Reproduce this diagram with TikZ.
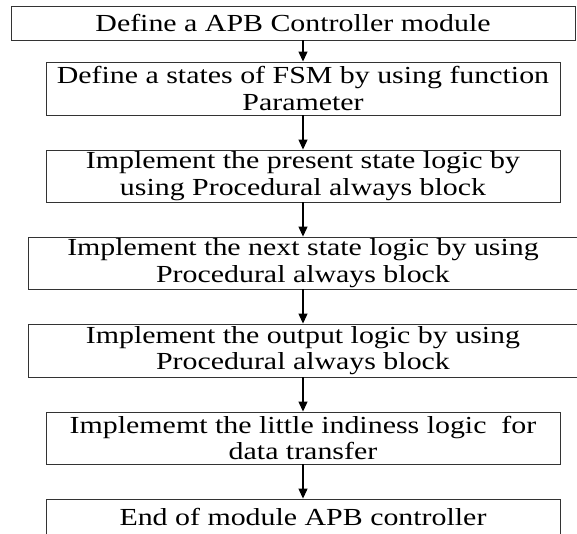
\documentclass[tikz,border=0pt]{standalone}
\usepackage{fontspec}
\setmainfont{Liberation Serif}[FakeStretch=1.22]
\usetikzlibrary{arrows.meta}
\begin{document}
\begin{tikzpicture}[x=1pt,y=-1pt,
  box/.style={draw=black!80, line width=0.9pt, inner sep=0pt, align=center,
    font=\fontsize{24.5}{26.5}\selectfont},
  arr/.style={-{Triangle[width=9pt,length=10pt]}, line width=1.1pt}]
\useasboundingbox (0,0) rectangle (577,533);
\clip (0,0) rectangle (577,533);
\node[box, minimum width=564pt, minimum height=34pt] (b1) at (293,23) {Define a APB Controller module};
\node[box, minimum width=514pt, minimum height=53pt] (b2) at (303,88.5) {Define a states of FSM by using function\\Parameter};
\node[box, minimum width=514pt, minimum height=52pt] (b3) at (303,176) {Implement the present state logic by\\using Procedural always block};
\node[box, minimum width=550pt, minimum height=52pt] (b4) at (303,263) {Implement the next state logic by using\\Procedural always block};
\node[box, minimum width=550pt, minimum height=53pt] (b5) at (303,350.5) {Implement the output logic by using\\Procedural always block};
\node[box, minimum width=514pt, minimum height=52pt] (b6) at (303,438) {Implememt the little indiness logic\ \ for\\data transfer};
\node[box, minimum width=514pt, minimum height=36pt] (b7) at (303,517) {End of module APB controller};
\draw[arr] (b1.south -| b2.north) -- (b2.north);
\draw[arr] (b2.south) -- (b3.north);
\draw[arr] (b3.south) -- (b4.north);
\draw[arr] (b4.south) -- (b5.north);
\draw[arr] (b5.south) -- (b6.north);
\draw[arr] (b6.south) -- (b7.north);
\end{tikzpicture}
\end{document}
